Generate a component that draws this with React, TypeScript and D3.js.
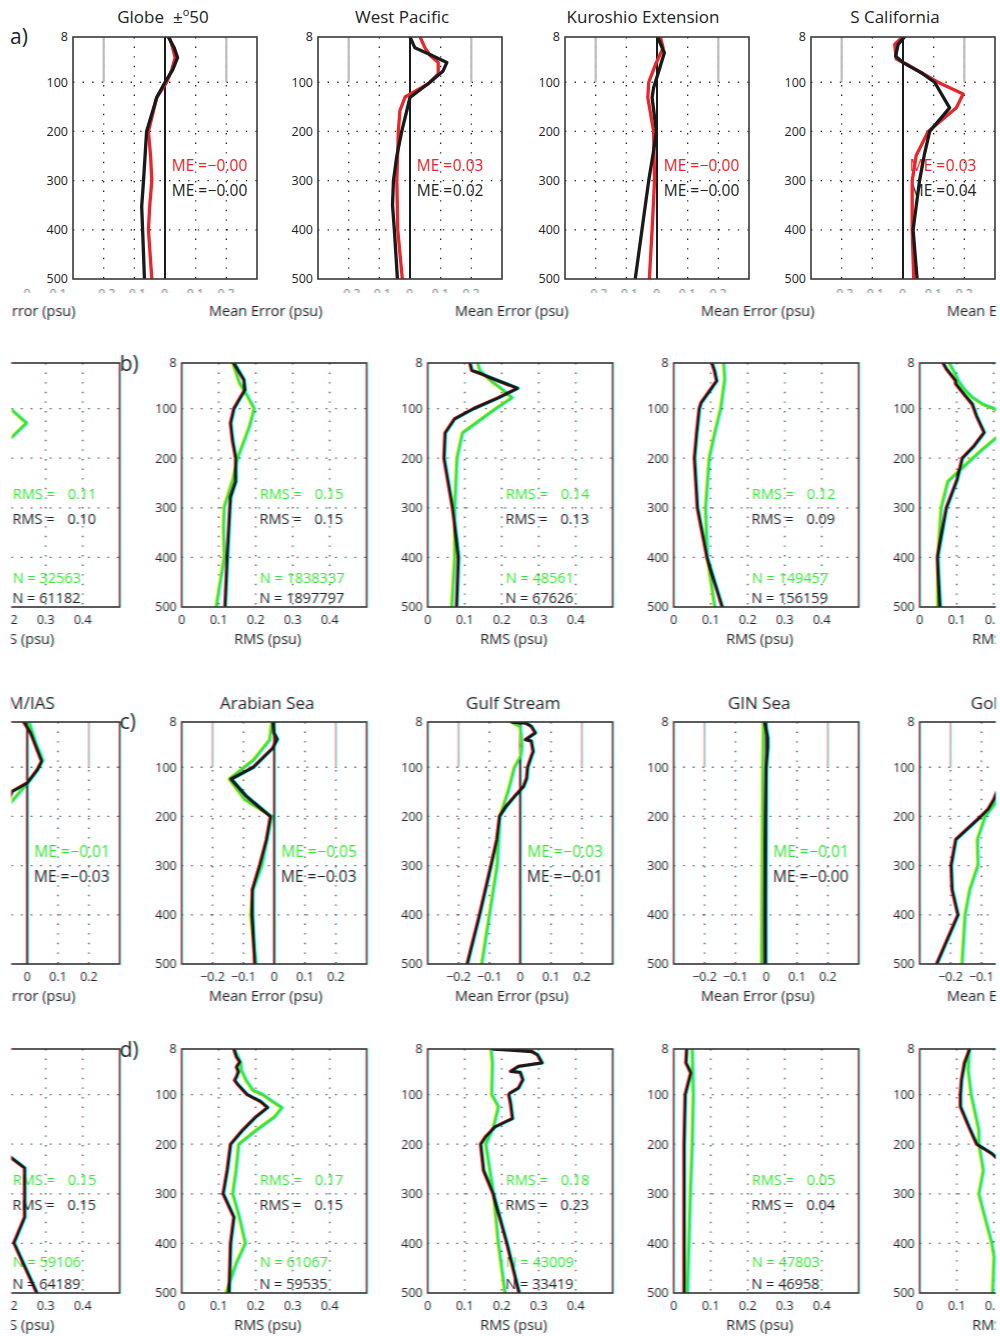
import React from 'react';
import * as d3 from 'd3';

type Pt = [number, number]; // [depth (m), value (psu)]

// ---------- axes ----------
const depthGrid = [100, 200, 300, 400];
const depthTicks = [8, 100, 200, 300, 400, 500];
const meTicks = [-0.2, -0.1, 0, 0.1, 0.2];
const rmsTicks = [0, 0.1, 0.2, 0.3, 0.4];

// ---------- row a: mean error (red vs black) ----------
const globeMeRed: Pt[] = [[8, 0.014], [30, 0.025], [50, 0.033], [75, 0.022], [100, 0.005], [131, -0.027], [200, -0.054], [250, -0.047], [300, -0.043], [353, -0.05], [400, -0.054], [500, -0.043]];
const globeMeBlack: Pt[] = [[8, 0.011], [30, 0.03], [50, 0.041], [75, 0.025], [100, 0], [131, -0.027], [200, -0.06], [250, -0.065], [300, -0.07], [353, -0.076], [400, -0.073], [500, -0.067]];
const wpMeRed: Pt[] = [[8, 0.033], [30, 0.049], [45, 0.065], [60, 0.092], [83, 0.092], [103, 0.06], [130, -0.016], [158, -0.033], [200, -0.038], [300, -0.043], [400, -0.04], [500, -0.025]];
const wpMeBlack: Pt[] = [[8, 0], [30, 0.016], [45, 0.07], [60, 0.12], [77, 0.108], [100, 0.065], [131, 0], [200, -0.027], [250, -0.043], [300, -0.054], [350, -0.057], [400, -0.051], [500, -0.041]];
const kuroMeRed: Pt[] = [[8, 0.011], [30, 0.02], [64, -0.005], [100, -0.027], [131, -0.03], [200, -0.011], [300, -0.008], [400, -0.016], [500, -0.025]];
const kuroMeBlack: Pt[] = [[8, 0.002], [40, 0.024], [71, 0.009], [111, -0.011], [131, -0.016], [200, -0.002], [239, -0.011], [300, -0.027], [400, -0.049], [500, -0.071]];
const scalMeRed: Pt[] = [[8, -0.002], [23, -0.027], [53, -0.022], [63, 0.011], [100, 0.114], [124, 0.196], [152, 0.174], [200, 0.082], [249, 0.043], [300, 0.03], [400, 0.03], [500, 0.035]];
const scalMeBlack: Pt[] = [[8, 0.005], [23, -0.016], [47, -0.024], [60, 0], [81, 0.06], [100, 0.103], [152, 0.152], [200, 0.087], [246, 0.07], [300, 0.054], [400, 0.033], [500, 0.046]];

// ---------- row b: RMS (green vs black) ----------
const scalRmsGreen: Pt[] = [[8, 0.079], [27, 0.093], [47, 0.106], [61, 0.12], [78, 0.142], [91, 0.169], [100, 0.2], [103, 0.208], [129, 0.247], [158, 0.207], [182, 0.169], [200, 0.142], [247, 0.075], [300, 0.057], [400, 0.048], [500, 0.048]];
const scalRmsBlack: Pt[] = [[8, 0.063], [20, 0.072], [44, 0.097], [50, 0.097], [75, 0.124], [91, 0.142], [114, 0.153], [148, 0.174], [175, 0.147], [200, 0.115], [243, 0.101], [300, 0.072], [400, 0.048], [500, 0.055]];
const globeRmsGreen: Pt[] = [[8, 0.137], [48, 0.155], [75, 0.177], [100, 0.195], [136, 0.182], [200, 0.15], [244, 0.137], [298, 0.114], [338, 0.112], [400, 0.114], [500, 0.092]];
const globeRmsBlack: Pt[] = [[8, 0.141], [42, 0.168], [62, 0.171], [82, 0.155], [100, 0.141], [129, 0.132], [163, 0.137], [200, 0.146], [247, 0.146], [278, 0.132], [300, 0.13], [400, 0.123], [500, 0.117]];
const wpRmsGreen: Pt[] = [[8, 0.134], [23, 0.14], [44, 0.17], [61, 0.2], [78, 0.227], [101, 0.181], [149, 0.093], [200, 0.078], [300, 0.072], [400, 0.072], [500, 0.064]];
const wpRmsBlack: Pt[] = [[8, 0.114], [23, 0.119], [30, 0.145], [44, 0.191], [59, 0.243], [78, 0.191], [100, 0.124], [121, 0.072], [149, 0.047], [200, 0.044], [300, 0.067], [365, 0.078], [400, 0.083], [500, 0.078]];
const kuroRmsGreen: Pt[] = [[8, 0.134], [40, 0.137], [100, 0.126], [149, 0.11], [200, 0.095], [300, 0.085], [400, 0.09], [500, 0.11]];
const kuroRmsBlack: Pt[] = [[8, 0.103], [23, 0.11], [44, 0.116], [61, 0.1], [88, 0.074], [100, 0.069], [149, 0.062], [200, 0.056], [300, 0.064], [400, 0.09], [500, 0.131]];

// ---------- row c: mean error (green vs black) ----------
const gomMeGreen: Pt[] = [[8, 0.005], [51, 0.027], [85, 0.049], [108, 0.029], [132, 0], [173, -0.056], [200, -0.089], [247, -0.114], [299, -0.112], [349, -0.139], [400, -0.154], [500, -0.164]];
const gomMeBlack: Pt[] = [[8, -0.011], [30, 0.011], [88, 0.047], [105, 0.033], [132, 0], [149, -0.049], [166, -0.06], [185, -0.078], [200, -0.102], [247, -0.183], [299, -0.198], [349, -0.195], [400, -0.176], [500, -0.245]];
const arabMeGreen: Pt[] = [[8, -0.009], [44, -0.016], [85, -0.068], [124, -0.147], [166, -0.096], [200, -0.009], [247, -0.025], [299, -0.041], [349, -0.07], [400, -0.077], [500, -0.06]];
const arabMeBlack: Pt[] = [[8, -0.003], [30, -0.001], [43, 0.01], [61, -0.005], [100, -0.068], [124, -0.139], [159, -0.09], [200, -0.012], [247, -0.025], [299, -0.047], [349, -0.071], [400, -0.071], [500, -0.063]];
const gulfMeGreen: Pt[] = [[8, -0.03], [17, -0.001], [57, 0.005], [78, 0], [100, -0.02], [146, -0.039], [200, -0.067], [300, -0.076], [400, -0.101], [500, -0.126]];
const gulfMeBlack: Pt[] = [[8, -0.026], [10, 0.017], [17, 0.036], [30, 0.049], [44, 0.017], [47, 0.036], [68, 0.042], [78, 0.036], [100, 0.024], [122, 0.021], [139, 0.011], [156, -0.014], [179, -0.045], [200, -0.067], [247, -0.076], [300, -0.095], [400, -0.132], [500, -0.172]];
const ginMeGreen: Pt[] = [[8, -0.01], [100, -0.012], [300, -0.014], [500, -0.016]];
const ginMeBlack: Pt[] = [[8, -0.004], [40, 0.005], [60, 0.005], [100, 0], [200, -0.002], [300, -0.003], [400, -0.004], [500, -0.004]];

// ---------- row d: RMS (green vs black) ----------
const gomRmsGreen: Pt[] = [[8, 0.133], [50, 0.13], [100, 0.138], [172, 0.159], [200, 0.159], [253, 0.171], [300, 0.159], [347, 0.175], [400, 0.194], [428, 0.2], [500, 0.196]];
const gomRmsBlack: Pt[] = [[8, 0.135], [36, 0.121], [70, 0.113], [100, 0.11], [124, 0.11], [165, 0.133], [200, 0.154], [219, 0.195], [228, 0.208], [248, 0.243], [347, 0.243], [399, 0.214], [500, 0.276]];
const arabRmsGreen: Pt[] = [[8, 0.141], [37, 0.159], [50, 0.16], [71, 0.173], [91, 0.191], [100, 0.218], [114, 0.245], [126, 0.27], [145, 0.25], [172, 0.2], [200, 0.153], [252, 0.146], [300, 0.137], [347, 0.155], [400, 0.171], [441, 0.146], [500, 0.119]];
const arabRmsBlack: Pt[] = [[8, 0.141], [24, 0.148], [34, 0.157], [44, 0.148], [54, 0.153], [64, 0.148], [71, 0.143], [81, 0.153], [100, 0.177], [114, 0.213], [126, 0.232], [145, 0.2], [172, 0.164], [200, 0.132], [252, 0.123], [300, 0.112], [347, 0.141], [400, 0.132], [500, 0.128]];
const gulfRmsGreen: Pt[] = [[8, 0.17], [36, 0.174], [100, 0.172], [124, 0.19], [165, 0.177], [200, 0.156], [300, 0.177], [400, 0.19], [500, 0.208]];
const gulfRmsBlack: Pt[] = [[8, 0.177], [13, 0.281], [20, 0.297], [36, 0.309], [43, 0.245], [53, 0.224], [55, 0.25], [70, 0.257], [87, 0.245], [97, 0.222], [100, 0.219], [118, 0.224], [148, 0.229], [165, 0.182], [185, 0.156], [200, 0.143], [253, 0.151], [300, 0.177], [400, 0.214], [500, 0.247]];
const ginRmsGreen: Pt[] = [[8, 0.049], [100, 0.052], [200, 0.049], [300, 0.044], [500, 0.036]];
const ginRmsBlack: Pt[] = [[8, 0.035], [36, 0.033], [56, 0.046], [100, 0.031], [200, 0.028], [300, 0.028], [500, 0.028]];

// ---------- titles and statistics ----------
const rowATitles = ['Globe', 'West Pacific', 'Kuroshio Extension', 'S California'];
const rowCTitles = ['GoM/IAS', 'Arabian Sea', 'Gulf Stream', 'GIN Sea', 'GoM/IAS'];
const rowAMeRed = ['−0.00', '0.03', '−0.00', '0.03'];
const rowAMeBlack = ['−0.00', '0.02', '−0.00', '0.04'];
const rowBRmsGreen = ['0.11', '0.15', '0.14', '0.12', '0.11'];
const rowBRmsBlack = ['0.10', '0.15', '0.13', '0.09', '0.10'];
const rowBNGreen = ['32563', '1838337', '48561', '149457', '32563'];
const rowBNBlack = ['61182', '1897797', '67626', '156159', '61182'];
const rowCMeGreen = ['−0.01', '−0.05', '−0.03', '−0.01', '−0.01'];
const rowCMeBlack = ['−0.03', '−0.03', '−0.01', '−0.00', '−0.03'];
const rowDRmsGreen = ['0.15', '0.17', '0.18', '0.05', '0.15'];
const rowDRmsBlack = ['0.15', '0.15', '0.23', '0.04', '0.15'];
const rowDNGreen = ['59106', '61067', '43009', '47803', '59106'];
const rowDNBlack = ['64189', '59535', '33419', '46958', '64189'];

// ---------- layout ----------
const FONT = "'Open Sans', 'Noto Sans', sans-serif";
const RED = '#e8262c';
const GREEN = '#3ae23a';
const INK = '#1a1a1a';
const rowAX = [73, 318, 565, 811];
const rowATitleX = [163, 402, 643, 895];
const rowAW = 184;
const shiftX = [-65, 182, 428, 674, 920];
const shiftW = 185;
const ROW_A = { top: 37, bottom: 279 };
const ROW_B = { top: 363, bottom: 607 };
const ROW_C = { top: 722, bottom: 964 };
const ROW_D = { top: 1049, bottom: 1293 };

interface Series { data: Pt[]; color: string; }
interface Note { label: string; value?: string; color: string; dy: number; }
interface PanelProps {
  id: string; x0: number; w: number; top: number; bottom: number;
  kind: 'me' | 'rms'; series: Series[]; notes: Note[];
  xAxis: boolean; axisLabel?: string; labelOffset: number;
  frame: string; grid: string;
}

const fmtTick = (t: number) => (t === 0 ? '0' : d3.format('.1f')(t));

function Panel(p: PanelProps) {
  const x = d3.scaleLinear().domain(p.kind === 'me' ? [-0.3, 0.3] : [0, 0.5]).range([p.x0, p.x0 + p.w]);
  const y = d3.scaleLinear().domain([8, 500]).range([p.top, p.bottom]);
  const line = d3.line<Pt>().x(d => x(d[1])).y(d => y(d[0]));
  const ticks = p.kind === 'me' ? meTicks : rmsTicks;
  const vGrid = ticks.filter(t => t !== 0);
  const noteX = p.kind === 'me' ? x(0.022) : x(0.21);
  const gap = p.kind === 'me' ? 36 : 55;
  const noteSize = p.kind === 'me' ? 15.5 : 14.5;
  return (
    <g>
      <clipPath id={p.id}>
        <rect x={p.x0} y={p.top} width={p.w} height={p.bottom - p.top} />
      </clipPath>
      {p.notes.map((n, i) => (
        <g key={i} fill={n.color} fontSize={noteSize} fontFamily={FONT}>
          <text x={noteX} y={p.top + n.dy}>{n.label}</text>
          {n.value && <text x={noteX + gap} y={p.top + n.dy}>{n.value}</text>}
        </g>
      ))}
      {depthGrid.map(d => (
        <line key={'h' + d} x1={p.x0} x2={p.x0 + p.w} y1={y(d)} y2={y(d)} stroke={p.grid} strokeWidth={1.3} strokeDasharray="1.4 8.2" />
      ))}
      {vGrid.map(t => (
        <line key={'v' + t} x1={x(t)} x2={x(t)} y1={p.top} y2={p.bottom} stroke={p.grid} strokeWidth={1.3} strokeDasharray="1.4 8.2" />
      ))}
      {p.kind === 'me' && [-0.2, 0.2].map(t => (
        <line key={'g' + t} x1={x(t)} x2={x(t)} y1={y(8)} y2={y(100)} stroke="#bdbdbd" strokeWidth={2.2} />
      ))}
      {p.kind === 'me' && <line x1={x(0)} x2={x(0)} y1={p.top} y2={p.bottom} stroke={INK} strokeWidth={2} />}
      <g clipPath={`url(#${p.id})`}>
        {p.series.map((s, i) => (
          <path key={i} d={line(s.data) || ''} fill="none" stroke={s.color} strokeWidth={3.3} strokeLinejoin="round" strokeLinecap="round" />
        ))}
      </g>
      <rect x={p.x0} y={p.top} width={p.w} height={p.bottom - p.top} fill="none" stroke={p.frame} strokeWidth={1.6} />
      {depthTicks.map(d => (
        <text key={'y' + d} x={p.x0 - 5} y={y(d)} dy="0.35em" textAnchor="end" fontSize={12.5} fontFamily={FONT} fill="#222">{d}</text>
      ))}
      {p.xAxis && ticks.map(t => (
        <text key={'x' + t} x={x(t)} y={p.bottom + 17} textAnchor="middle" fontSize={12.5} fontFamily={FONT} fill="#222">{fmtTick(t)}</text>
      ))}
      {p.axisLabel && (
        <text x={p.x0 + p.labelOffset} y={p.bottom + 37} textAnchor="middle" fontSize={14.5} fontFamily={FONT} fill="#222">{p.axisLabel}</text>
      )}
    </g>
  );
}

// Half-hidden tick strip under the top row
function TickStrip() {
  const baseline = 298;
  const own = rowAX.map(x0 => d3.scaleLinear().domain([-0.3, 0.3]).range([x0, x0 + rowAW]));
  const left = d3.scaleLinear().domain([-0.3, 0.3]).range([shiftX[0], shiftX[0] + shiftW]);
  const leftTicks = meTicks.filter(t => left(t) > 12 && left(t) < 70);
  return (
    <g>
      <clipPath id="strip"><rect x={0} y={289} width={1000} height={4} /></clipPath>
      <g clipPath="url(#strip)" fontSize={12} fontFamily={FONT} fill="#777" textAnchor="middle">
        {own.map((x, i) => meTicks.map(t => (
          <text key={i + '-' + t} x={x(t)} y={baseline}>{fmtTick(t)}</text>
        )))}
        {leftTicks.map(t => (
          <text key={'l' + t} x={left(t)} y={baseline}>{fmtTick(t)}</text>
        ))}
      </g>
      {shiftX.map((x0, i) => (
        <text key={'ml' + i} x={x0 + 84} y={316} textAnchor="middle" fontSize={14.5} fontFamily={FONT} fill="#222">Mean Error (psu)</text>
      ))}
    </g>
  );
}

export default function App() {
  const rowA = [
    [globeMeRed, globeMeBlack], [wpMeRed, wpMeBlack], [kuroMeRed, kuroMeBlack], [scalMeRed, scalMeBlack],
  ];
  const rowB = [
    [scalRmsGreen, scalRmsBlack], [globeRmsGreen, globeRmsBlack], [wpRmsGreen, wpRmsBlack], [kuroRmsGreen, kuroRmsBlack], [scalRmsGreen, scalRmsBlack],
  ];
  const rowC = [
    [gomMeGreen, gomMeBlack], [arabMeGreen, arabMeBlack], [gulfMeGreen, gulfMeBlack], [ginMeGreen, ginMeBlack], [gomMeGreen, gomMeBlack],
  ];
  const rowD = [
    [gomRmsGreen, gomRmsBlack], [arabRmsGreen, arabRmsBlack], [gulfRmsGreen, gulfRmsBlack], [ginRmsGreen, ginRmsBlack], [gomRmsGreen, gomRmsBlack],
  ];

  return (
    <svg width={1000} height={1336} style={{ position: 'absolute', left: 0, top: 0, display: 'block' }}>
      <defs>
        <filter id="fringe" filterUnits="userSpaceOnUse" x={-20} y={285} width={1040} height={1060} colorInterpolationFilters="sRGB">
          <feColorMatrix in="SourceGraphic" type="matrix" values="1 0 0 0 0  0 0 0 0 0  0 0 0 0 0  0 0 0 1 0" result="rc" />
          <feOffset in="rc" dx={1} dy={0} result="rs" />
          <feColorMatrix in="SourceGraphic" type="matrix" values="0 0 0 0 0  0 1 0 0 0  0 0 1 0 0  0 0 0 1 0" result="gbc" />
          <feOffset in="gbc" dx={-1} dy={0} result="gbs" />
          <feComposite in="rs" in2="gbs" operator="arithmetic" k1={0} k2={1} k3={1} k4={0} result="shifted" />
          <feComposite in="shifted" in2="SourceGraphic" operator="arithmetic" k1={0} k2={0.55} k3={0.45} k4={0} />
        </filter>
        <clipPath id="page"><rect x={11.5} y={0} width={984.5} height={1336} /></clipPath>
        <clipPath id="pageA"><rect x={0} y={0} width={996} height={1336} /></clipPath>
      </defs>
      <rect x={0} y={0} width={1000} height={1336} fill="#fff" />

      {/* row a */}
      <text x={10} y={44} fontSize={21} fontFamily={FONT} fill="#222">a)</text>
      <g clipPath="url(#pageA)">
        {rowA.map(([red, black], i) => (
          <Panel key={'a' + i} id={'ca' + i} x0={rowAX[i]} w={rowAW} top={ROW_A.top} bottom={ROW_A.bottom}
            kind="me" xAxis={false} labelOffset={84} frame="#3a3a3a" grid="#2a2a2a"
            series={[{ data: red, color: RED }, { data: black, color: INK }]}
            notes={[
              { label: 'ME =', value: rowAMeRed[i], color: RED, dy: 134 },
              { label: 'ME =', value: rowAMeBlack[i], color: '#222', dy: 159 },
            ]} />
        ))}
      </g>
      {rowATitles.map((t, i) => (
        <text key={'ta' + i} x={rowATitleX[i]} y={23} textAnchor="middle" fontSize={17} fontFamily={FONT} fill="#222">
          {t}
          {i === 0 && <tspan dx={9}>±</tspan>}
          {i === 0 && <tspan dy={-7} fontSize={11}>o</tspan>}
          {i === 0 && <tspan dy={7}>50</tspan>}
        </text>
      ))}

      <g filter="url(#fringe)">
        <rect x={-20} y={285} width={1040} height={1060} fill="#fff" />
        <g clipPath="url(#page)">
          <TickStrip />

          {/* row b */}
          {rowB.map(([green, black], i) => (
            <Panel key={'b' + i} id={'cb' + i} x0={shiftX[i]} w={shiftW} top={ROW_B.top} bottom={ROW_B.bottom}
              kind="rms" xAxis axisLabel="RMS (psu)" labelOffset={86} frame="#333" grid="#3a3a3a"
              series={[{ data: green, color: GREEN }, { data: black, color: INK }]}
              notes={[
                { label: 'RMS =', value: rowBRmsGreen[i], color: GREEN, dy: 136 },
                { label: 'RMS =', value: rowBRmsBlack[i], color: '#222', dy: 161 },
                { label: `N = ${rowBNGreen[i]}`, color: GREEN, dy: 220 },
                { label: `N = ${rowBNBlack[i]}`, color: '#222', dy: 240 },
              ]} />
          ))}

          {/* row c */}
          {rowC.map(([green, black], i) => (
            <Panel key={'c' + i} id={'cc' + i} x0={shiftX[i]} w={shiftW} top={ROW_C.top} bottom={ROW_C.bottom}
              kind="me" xAxis axisLabel="Mean Error (psu)" labelOffset={84} frame="#333" grid="#3a3a3a"
              series={[{ data: green, color: GREEN }, { data: black, color: INK }]}
              notes={[
                { label: 'ME =', value: rowCMeGreen[i], color: GREEN, dy: 135 },
                { label: 'ME =', value: rowCMeBlack[i], color: '#222', dy: 160 },
              ]} />
          ))}
          {rowCTitles.map((t, i) => (
            <text key={'tc' + i} x={shiftX[i] + shiftW / 2 - 7} y={709} textAnchor="middle" fontSize={17} fontFamily={FONT} fill="#222">{t}</text>
          ))}

          {/* row d */}
          {rowD.map(([green, black], i) => (
            <Panel key={'d' + i} id={'cd' + i} x0={shiftX[i]} w={shiftW} top={ROW_D.top} bottom={ROW_D.bottom}
              kind="rms" xAxis axisLabel="RMS (psu)" labelOffset={86} frame="#333" grid="#3a3a3a"
              series={[{ data: green, color: GREEN }, { data: black, color: INK }]}
              notes={[
                { label: 'RMS =', value: rowDRmsGreen[i], color: GREEN, dy: 136 },
                { label: 'RMS =', value: rowDRmsBlack[i], color: '#222', dy: 161 },
                { label: `N = ${rowDNGreen[i]}`, color: GREEN, dy: 218 },
                { label: `N = ${rowDNBlack[i]}`, color: '#222', dy: 240 },
              ]} />
          ))}
        </g>
        <text x={120} y={371} fontSize={21} fontFamily={FONT} fill="#222">b)</text>
        <text x={120} y={729} fontSize={21} fontFamily={FONT} fill="#222">c)</text>
        <text x={120} y={1057} fontSize={21} fontFamily={FONT} fill="#222">d)</text>
      </g>
    </svg>
  );
}
